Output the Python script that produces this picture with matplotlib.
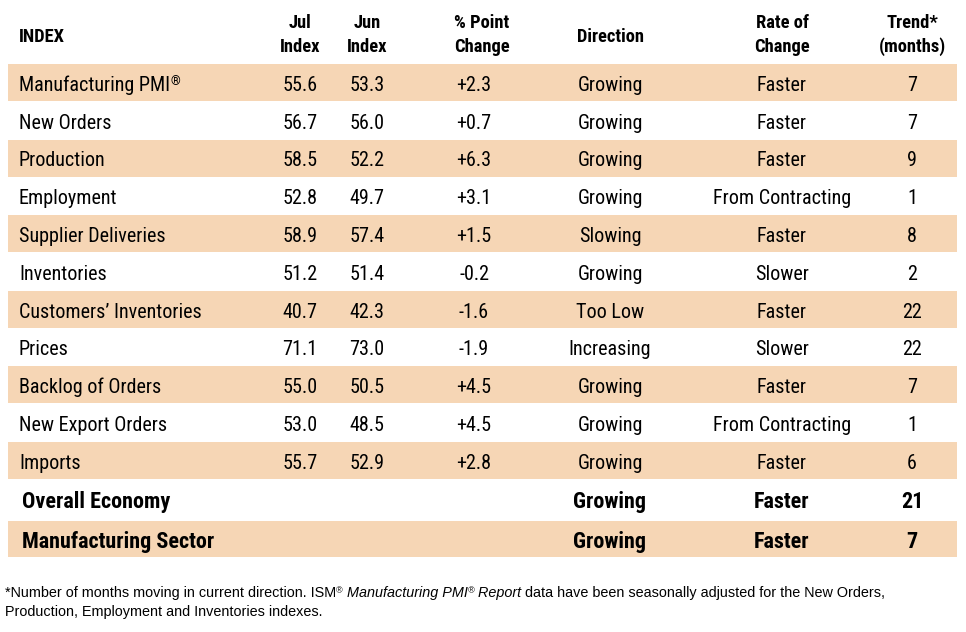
import matplotlib
matplotlib.use("Agg")
import matplotlib.pyplot as plt
from matplotlib.patches import Rectangle

# ---------------- data ----------------
index_names = ["Manufacturing PMI", "New Orders", "Production", "Employment",
               "Supplier Deliveries", "Inventories", "Customers\u2019 Inventories",
               "Prices", "Backlog of Orders", "New Export Orders", "Imports"]
jul_index = [55.6, 56.7, 58.5, 52.8, 58.9, 51.2, 40.7, 71.1, 55.0, 53.0, 55.7]
jun_index = [53.3, 56.0, 52.2, 49.7, 57.4, 51.4, 42.3, 73.0, 50.5, 48.5, 52.9]
point_change = [2.3, 0.7, 6.3, 3.1, 1.5, -0.2, -1.6, -1.9, 4.5, 4.5, 2.8]
direction = ["Growing", "Growing", "Growing", "Growing", "Slowing", "Growing",
             "Too Low", "Increasing", "Growing", "Growing", "Growing"]
rate_of_change = ["Faster", "Faster", "Faster", "From Contracting", "Faster",
                  "Slower", "Faster", "Slower", "Faster", "From Contracting", "Faster"]
trend_months = [7, 7, 9, 1, 8, 2, 22, 22, 7, 1, 6]

summary_names = ["Overall Economy", "Manufacturing Sector"]
summary_direction = ["Growing", "Growing"]
summary_rate = ["Faster", "Faster"]
summary_trend = [21, 7]

headers = ["INDEX", "Jul\nIndex", "Jun\nIndex", "% Point\nChange", "Direction",
           "Rate of\nChange", "Trend*\n(months)"]

footnote_line1 = [("*Number of months moving in current direction. ISM", "normal", False),
                  ("\u00ae", "normal", True),
                  (" Manufacturing PMI", "italic", False),
                  ("\u00ae", "italic", True),
                  (" Report", "italic", False),
                  (" data have been seasonally adjusted for the New Orders,", "normal", False)]
footnote_line2 = "Production, Employment and Inventories indexes."

# ---------------- layout ----------------
W, H = 966, 632
BAND = "#F6D6B5"
FONT = ["Roboto Condensed", "Liberation Sans", "DejaVu Sans"]
FOOT_FONT = ["Liberation Sans", "DejaVu Sans"]

fig = plt.figure(figsize=(W / 100, H / 100), dpi=100)
ax = fig.add_axes([0, 0, 1, 1])
ax.set_xlim(0, W)
ax.set_ylim(H, 0)
ax.axis("off")
renderer = fig.canvas.get_renderer()

col_x = [19, 300, 367, 474, 610, 782, 912]
head_x = [19, 300, 367, 482, 610, 782, 912]
body_fs = 14.5
head_fs = 13.3
sum_fs = 15.9

# header
for i, h in enumerate(headers):
    lines = h.split("\n")
    if len(lines) == 1:
        ax.text(head_x[i], 41.5, lines[0], ha="left" if i == 0 else "center",
                va="baseline", fontsize=head_fs, fontweight="bold", family=FONT)
    else:
        for k, ln in enumerate(lines):
            ax.text(head_x[i], 28.5 + 23.5 * k, ln, ha="center", va="baseline",
                    fontsize=head_fs, fontweight="bold", family=FONT)

left, right = 8, 957
row_h = 37.8
top0 = 64


def fmt_change(v):
    return f"{v:+.1f}"


n = len(index_names)
for i in range(n):
    top = top0 + i * row_h
    if i % 2 == 0:
        ax.add_patch(Rectangle((left, top), right - left, row_h - 0.8,
                               facecolor=BAND, edgecolor="none", zorder=0))
    yb = top + row_h / 2 + 8
    t = ax.text(col_x[0], yb, index_names[i], ha="left", va="baseline",
                fontsize=body_fs, family=FONT)
    if i == 0:
        bb = t.get_window_extent(renderer)
        ax.text(bb.x1 + 0.5, yb - 6, "\u00ae", ha="left", va="baseline",
                fontsize=9, family=FONT)
    vals = [f"{jul_index[i]:.1f}", f"{jun_index[i]:.1f}", fmt_change(point_change[i]),
            direction[i], rate_of_change[i], str(trend_months[i])]
    for c, v in enumerate(vals, start=1):
        ax.text(col_x[c], yb, v, ha="center", va="baseline", fontsize=body_fs, family=FONT)

sum_top0 = top0 + n * row_h
sum_h = 40.5
for j in range(len(summary_names)):
    top = sum_top0 + j * sum_h
    if (n + j) % 2 == 0:
        ax.add_patch(Rectangle((left, top + 0.5), right - left, 36,
                               facecolor=BAND, edgecolor="none", zorder=0))
    yb = top + 20 + 8
    ax.text(22, yb, summary_names[j], ha="left", va="baseline", fontsize=sum_fs,
            fontweight="bold", family=FONT)
    for c, v in zip([4, 5, 6], [summary_direction[j], summary_rate[j], str(summary_trend[j])]):
        ax.text(col_x[c], yb, v, ha="center", va="baseline", fontsize=sum_fs,
                fontweight="bold", family=FONT)

# footnote
foot_fs = 10.35
x = 5
for s, style, sup in footnote_line1:
    if sup:
        t = ax.text(x, 597 - 4, s, ha="left", va="baseline", fontsize=6.5,
                    style=style, family=FOOT_FONT)
    else:
        t = ax.text(x, 597, s, ha="left", va="baseline", fontsize=foot_fs,
                    style=style, family=FOOT_FONT)
    x = t.get_window_extent(renderer).x1
ax.text(5, 616, footnote_line2, ha="left", va="baseline", fontsize=foot_fs, family=FOOT_FONT)

fig.savefig("out.png", dpi=100, facecolor="white")
